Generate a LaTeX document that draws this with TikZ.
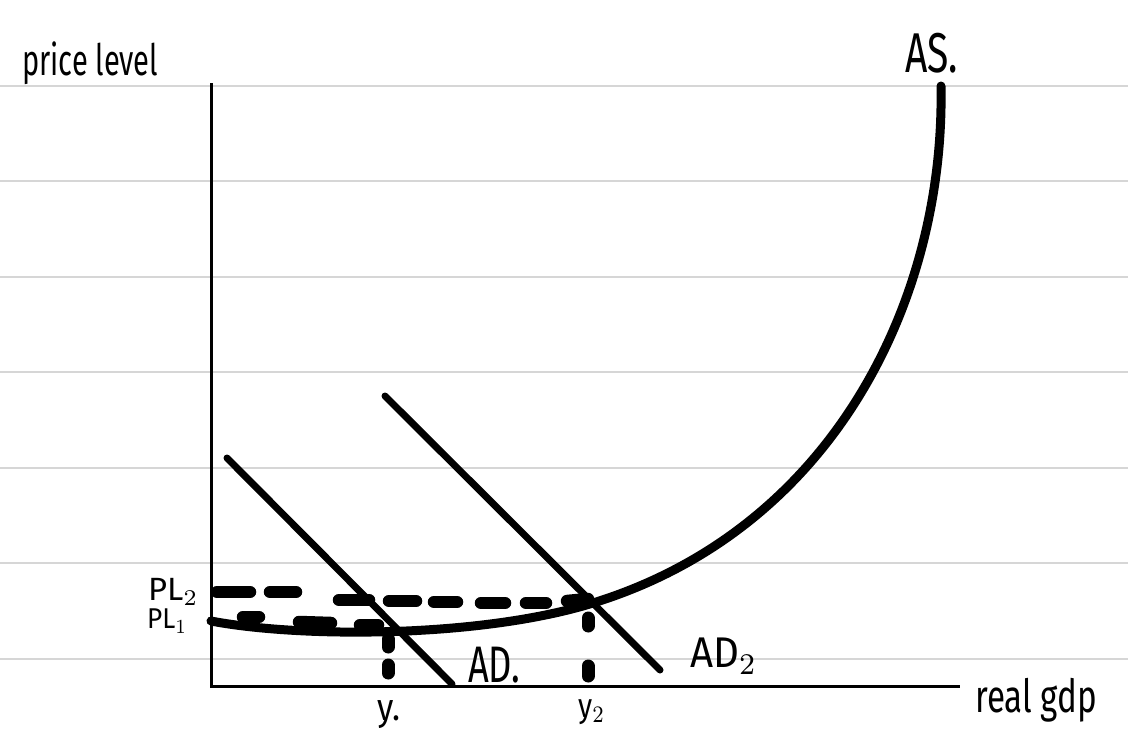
\documentclass[tikz,border=0pt]{standalone}
\usepackage{fontspec}
\setmainfont{Fira Sans}
\usepackage{graphicx}
\newcommand\hwtext[3]{\resizebox*{#1pt}{#2pt}{#3}}
\tikzset{
  ruled/.style={draw=black!16, line width=2pt},
  axisline/.style={draw=black, line width=3pt},
  adline/.style={draw=black, line width=7pt, line cap=round},
  ascurve/.style={draw=black, line width=9pt, line cap=round},
  dashblob/.style={draw=black, line width=12.5pt, line cap=round},
  hwlabel/.style={inner sep=0pt, anchor=north west},
}
\begin{document}
\begin{tikzpicture}[x=1pt,y=-1pt]
\useasboundingbox[fill=white] (0,0) rectangle (1128,748);
% ruled paper
\foreach \yy in {85.5,181,276.5,372,467.5,563,658.5}
  \draw[ruled] (0,\yy) -- (1128,\yy);
% axes
\coordinate (ytop) at (211,83);
\coordinate (origin) at (211,686);
\coordinate (xend) at (960,686);
\draw[axisline] (ytop) -- (origin) -- (xend);
% AD curves
\coordinate (ad1a) at (227,458);
\coordinate (ad1b) at (452,684);
\coordinate (ad2a) at (385,396);
\coordinate (ad2b) at (660,670);
\draw[adline] (ad1a) -- (ad1b);
\draw[adline] (ad2a) -- (ad2b);
% dashed price levels
\foreach \xa/\ya/\xb/\yb in {217/592/250/592, 270/592/296/592, 339/600/369/600, 389/601/416/601, 434/602/457/602, 481/603/505/603, 526/603/546/603, 567/601/588/599}
  \draw[dashblob] (\xa,\ya) -- (\xb,\yb);
\foreach \xa/\ya/\xb/\yb in {243/617/259/617, 299/622/331/623, 360/625/378/625}
  \draw[dashblob] (\xa,\ya) -- (\xb,\yb);
% vertical dotted drops
\foreach \xa/\ya/\yb in {388/639/647, 388/665/673, 588/618/626, 588/666/676}
  \draw[dashblob, line width=13pt] (\xa,\ya) -- (\xa,\yb);
% AS curve
\coordinate (as0) at (211,621);
\coordinate (as1) at (593,603);
\coordinate (as2) at (941,86);
\draw[ascurve] (as0) .. controls (300,638) and (480,638) .. (as1)
               .. controls (833,529) and (945,300) .. (as2);
% labels
\node[hwlabel] (lprice) at (22,42) {\hwtext{136}{43}{price level}};
\node[hwlabel] (las) at (905,33) {\hwtext{53}{40}{AS.}};
\node[hwlabel] (lpl2) at (148,578) {\hwtext{50}{27}{PL$_2$}};
\node[hwlabel] (lpl1) at (147,609) {\hwtext{40}{24}{PL$_1$}};
\node[hwlabel] (lad1) at (468,647) {\hwtext{52}{36}{AD.}};
\node[hwlabel] (lad2) at (690,638) {\hwtext{67}{36}{AD$_2$}};
\node[hwlabel] (ly1) at (377,700) {\hwtext{23}{28}{y.}};
\node[hwlabel] (ly2) at (578,699) {\hwtext{27}{25}{y$_2$}};
\node[hwlabel] (lgdp) at (975,678) {\hwtext{122}{44}{real gdp}};
\end{tikzpicture}
\end{document}
